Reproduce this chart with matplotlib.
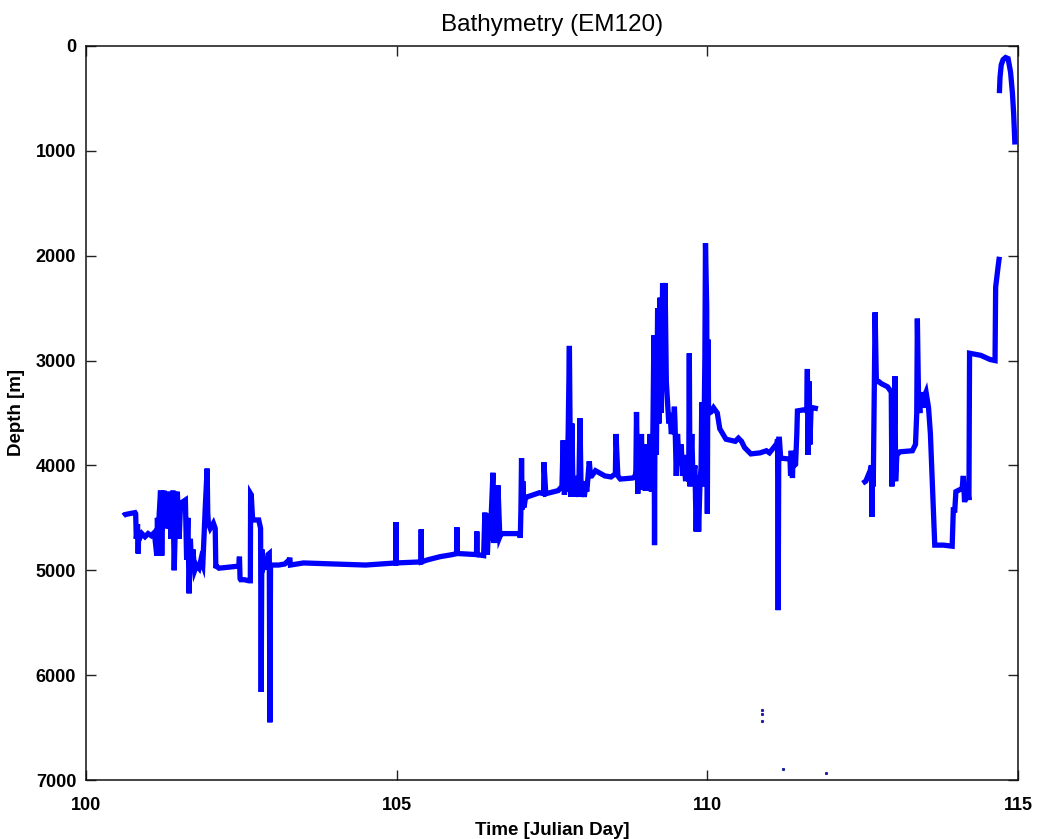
import numpy as np
import matplotlib
matplotlib.use("Agg")
import matplotlib.pyplot as plt

plt.rcParams['font.family'] = ['Liberation Sans', 'DejaVu Sans']

# Ship track bathymetry: time (Julian day) and depth (m); NaN splits survey segments
day = [
    100.60, 100.62, 100.70, 100.79, 100.80, 100.81, 100.83, 100.84, 100.85, 100.86,
    100.90, 100.95, 101.00, 101.05, 101.10, 101.14, 101.15, 101.16, 101.18, 101.20,
    101.22, 101.24, 101.26, 101.28, 101.30, 101.33, 101.37, 101.40, 101.42, 101.45,
    101.47, 101.50, 101.52, 101.55, 101.60, 101.62, 101.64, 101.66, 101.68, 101.70,
    101.72, 101.75, 101.78, 101.82, 101.85, 101.88, 101.92, 101.95, 101.96, 101.97,
    102.00, 102.05, 102.08, 102.09, 102.10, 102.14, 102.30, 102.46, 102.47, 102.48,
    102.49, 102.55, 102.62, 102.645, 102.65, 102.66, 102.68, 102.69, 102.78, 102.81,
    102.82, 102.83, 102.84, 102.86, 102.90, 102.93, 102.95, 102.96, 102.97, 102.98,
    103.10, 103.20, 103.27, 103.28, 103.29, 103.50, 104.00, 104.50, 104.985, 104.99,
    104.995, 105.39, 105.395, 105.40, 105.50, 105.70, 105.90, 105.965, 105.97, 105.975,
    106.285, 106.29, 106.295, 106.40, 106.42, 106.43, 106.44, 106.46, 106.48, 106.50,
    106.52, 106.55, 106.56, 106.57, 106.59, 106.60, 106.61, 106.63, 106.66, 106.68,
    106.70, 106.98, 106.99, 107.00, 107.01, 107.02, 107.03, 107.05, 107.07, 107.10,
    107.15, 107.30, 107.365, 107.37, 107.40, 107.60, 107.66, 107.68, 107.70, 107.72,
    107.74, 107.76, 107.78, 107.80, 107.82, 107.84, 107.86, 107.88, 107.90, 107.93,
    107.95, 107.97, 108.00, 108.02, 108.04, 108.06, 108.08, 108.10, 108.12, 108.14,
    108.20, 108.35, 108.45, 108.52, 108.53, 108.56, 108.60, 108.80, 108.84, 108.85,
    108.86, 108.88, 108.90, 108.92, 108.94, 108.96, 108.98, 109.00, 109.02, 109.05,
    109.08, 109.10, 109.12, 109.14, 109.15, 109.16, 109.18, 109.20, 109.22, 109.24,
    109.26, 109.28, 109.30, 109.32, 109.34, 109.36, 109.38, 109.40, 109.42, 109.45,
    109.47, 109.48, 109.50, 109.52, 109.55, 109.58, 109.60, 109.62, 109.65, 109.67,
    109.69, 109.70, 109.71, 109.72, 109.75, 109.77, 109.80, 109.82, 109.84, 109.86,
    109.88, 109.90, 109.91, 109.93, 109.95, 109.96, 109.97, 109.99, 110.00, 110.01,
    110.02, 110.03, 110.06, 110.10, 110.16, 110.20, 110.30, 110.45, 110.50, 110.55,
    110.60, 110.70, 110.85, 110.95, 111.00, 111.12, 111.13, 111.14, 111.15, 111.16,
    111.18, 111.33, 111.34, 111.35, 111.37, 111.38, 111.40, 111.42, 111.44, 111.45,
    111.55, 111.60, 111.61, 111.62, 111.64, 111.65, 111.67, 111.70, 111.78,
    np.nan,
    112.50, 112.55, 112.62, 112.64, 112.65, 112.66, 112.67, 112.70, 112.72, 112.76,
    112.80, 112.90, 112.96, 112.97, 112.98, 113.00, 113.02, 113.03, 113.05, 113.10,
    113.30, 113.35, 113.37, 113.38, 113.40, 113.42, 113.44, 113.45, 113.47, 113.48,
    113.50, 113.52, 113.56, 113.59, 113.63, 113.66, 113.80, 113.94, 113.95, 113.96,
    113.98, 114.00, 114.10, 114.12, 114.14, 114.18, 114.21, 114.22, 114.40, 114.55,
    114.63, 114.64, 114.66, 114.68, 114.70,
    np.nan,
    114.70, 114.71, 114.73, 114.76, 114.80, 114.84, 114.88, 114.91, 114.93, 114.95,
]

depth = [
    4480, 4470, 4460, 4450, 4460, 4700, 4560, 4840, 4620, 4700,
    4650, 4680, 4650, 4670, 4640, 4860, 4500, 4700, 4450, 4240,
    4860, 4300, 4240, 4600, 4550, 4250, 4700, 4240, 5000, 4300,
    4250, 4700, 4400, 4350, 4330, 4900, 4500, 5220, 4700, 4950,
    4800, 5000, 4950, 4980, 4900, 4950, 4400, 4030, 4450, 4550,
    4600, 4550, 4600, 4980, 4960, 4980, 4970, 4960, 4870, 5080,
    5090, 5090, 5100, 5100, 4270, 4280, 4500, 4520, 4520, 4600,
    6160, 4800, 5000, 4970, 4970, 4850, 4840, 6450, 4950, 4950,
    4950, 4940, 4900, 4880, 4950, 4930, 4940, 4950, 4930, 4540,
    4930, 4920, 4610, 4920, 4900, 4870, 4850, 4840, 4590, 4840,
    4850, 4630, 4850, 4860, 4450, 4700, 4460, 4850, 4560, 4600,
    4500, 4070, 4740, 4200, 4740, 4190, 4700, 4190, 4680, 4650,
    4650, 4650, 4690, 4420, 3930, 4420, 4150, 4400, 4320, 4300,
    4290, 4260, 4270, 3970, 4270, 4240, 4200, 3760, 4280, 3900,
    4250, 3700, 2860, 4300, 3600, 4300, 4100, 4250, 4150, 4300,
    3550, 4300, 4150, 4300, 4200, 4250, 4100, 3960, 4100, 4100,
    4050, 4100, 4110, 4080, 3700, 4100, 4130, 4120, 4100, 4050,
    3490, 4270, 3750, 4200, 3700, 4230, 3900, 4240, 3800, 4240,
    3700, 4250, 3900, 2760, 4760, 3000, 3900, 2500, 3600, 2400,
    3500, 2260, 3000, 2260, 3200, 3400, 3600, 3500, 3700, 3640,
    3440, 3600, 4100, 3700, 4000, 3800, 4100, 3900, 4150, 4000,
    4100, 4150, 2930, 4200, 3700, 4150, 4000, 4630, 4100, 4630,
    4200, 4000, 3400, 4200, 3500, 3000, 1880, 2500, 4460, 2800,
    3500, 3500, 3490, 3450, 3500, 3650, 3750, 3770, 3740, 3770,
    3830, 3890, 3880, 3860, 3880, 3790, 3750, 5380, 3750, 3750,
    3930, 3940, 4100, 3860, 4120, 3880, 4000, 3990, 3700, 3480,
    3470, 3480, 3080, 3900, 3200, 3800, 3450, 3450, 3460,
    np.nan,
    4170, 4150, 4050, 4000, 4490, 4000, 4200, 2540, 3200, 3200,
    3220, 3250, 3300, 4200, 3300, 4150, 3150, 4150, 3900, 3870,
    3860, 3800, 3500, 2600, 3400, 3500, 3300, 3450, 3350, 3450,
    3330, 3300, 3450, 3700, 4300, 4760, 4760, 4770, 4600, 4400,
    4450, 4250, 4220, 4100, 4350, 4200, 4330, 2930, 2950, 2990,
    3000, 2300, 2200, 2100, 2010,
    np.nan,
    450, 300, 180, 130, 110, 120, 250, 450, 650, 940,
]

# Isolated stray soundings
stray_day = [110.88, 110.88, 110.88, 111.21, 111.906]
stray_depth = [6332, 6370, 6437, 6898, 6936]

x_ticks = [100, 105, 110, 115]
y_ticks = [0, 1000, 2000, 3000, 4000, 5000, 6000, 7000]

fig = plt.figure(figsize=(10.37, 8.39), dpi=100)
ax = fig.add_axes([0.0829, 0.0703, 0.8988, 0.8749])

ax.plot(day, depth, color='#0000ff', linewidth=3.8, solid_joinstyle='miter',
        solid_capstyle='butt')
ax.plot(stray_day, stray_depth, linestyle='none', marker='s', markersize=1.2,
        color='#2020a0')

ax.set_xlim(100, 115)
ax.set_ylim(7000, 0)
ax.set_xticks(x_ticks)
ax.set_yticks(y_ticks)
ax.set_xticklabels([str(t) for t in x_ticks])
ax.set_yticklabels([str(t) for t in y_ticks])

ax.tick_params(axis='both', direction='in', length=7, width=1.0, color='#222222',
               labelsize=13, top=True, right=True)
ax.tick_params(axis='x', pad=12)
ax.tick_params(axis='y', pad=7)
for lbl in ax.get_xticklabels() + ax.get_yticklabels():
    lbl.set_fontweight('bold')

for sp in ax.spines.values():
    sp.set_linewidth(1.1)
    sp.set_color('#111111')

ax.set_title('Bathymetry (EM120)', fontsize=17.5, pad=11)
ax.set_xlabel('Time [Julian Day]', fontsize=13.5, fontweight='bold', labelpad=6)
ax.set_ylabel('Depth [m]', fontsize=13.5, fontweight='bold', labelpad=8)

fig.savefig('out.png', dpi=100, facecolor='white')
